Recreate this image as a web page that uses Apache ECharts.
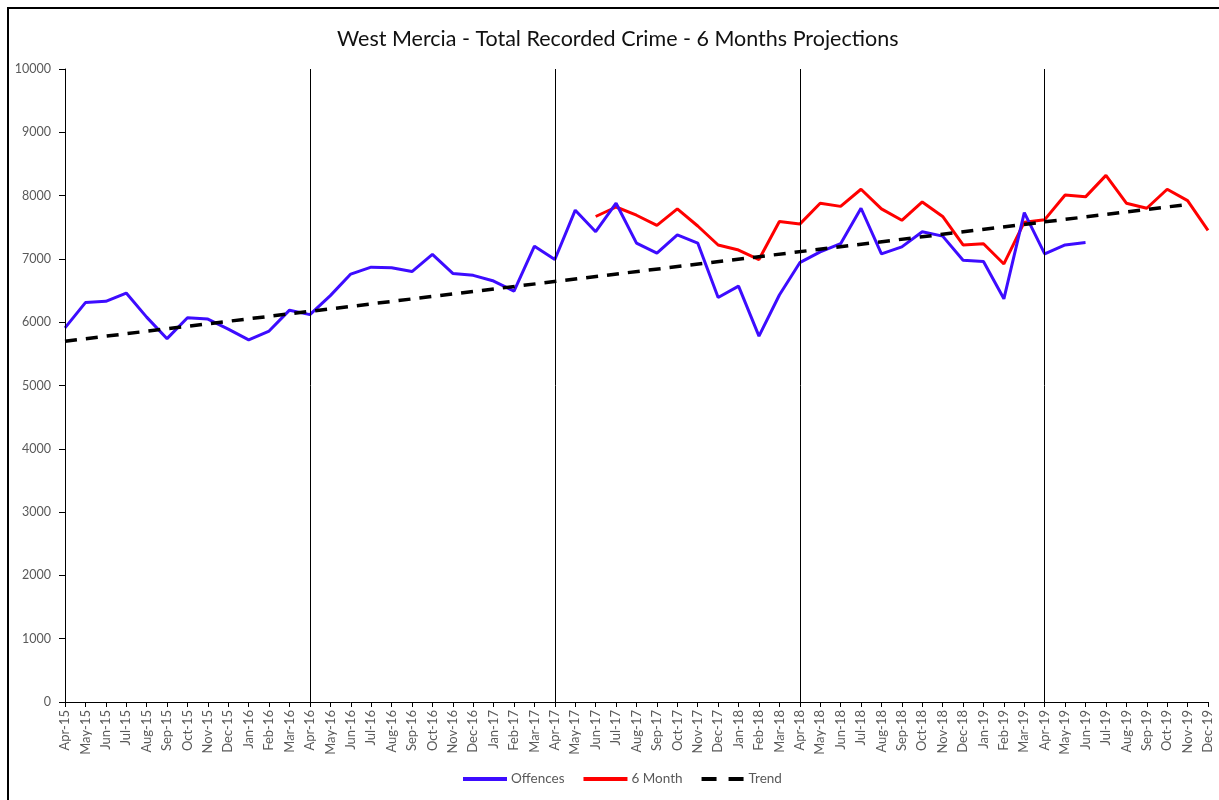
<!DOCTYPE html>
<html>
<head>
<meta charset="utf-8">
<script src="https://cdn.jsdelivr.net/npm/echarts@6/dist/echarts.min.js"></script>
<style>
  html, body { margin: 0; padding: 0; background: #fff; }
  #chart { width: 1219px; height: 800px; }
</style>
</head>
<body>
<div id="chart"></div>
<script>
// months Apr-15 .. Dec-19
const months = [
  "Apr-15", "May-15", "Jun-15", "Jul-15", "Aug-15", "Sep-15", "Oct-15", "Nov-15", "Dec-15", "Jan-16", "Feb-16", "Mar-16",
  "Apr-16", "May-16", "Jun-16", "Jul-16", "Aug-16", "Sep-16", "Oct-16", "Nov-16", "Dec-16", "Jan-17", "Feb-17", "Mar-17",
  "Apr-17", "May-17", "Jun-17", "Jul-17", "Aug-17", "Sep-17", "Oct-17", "Nov-17", "Dec-17", "Jan-18", "Feb-18", "Mar-18",
  "Apr-18", "May-18", "Jun-18", "Jul-18", "Aug-18", "Sep-18", "Oct-18", "Nov-18", "Dec-18", "Jan-19", "Feb-19", "Mar-19",
  "Apr-19", "May-19", "Jun-19", "Jul-19", "Aug-19", "Sep-19", "Oct-19", "Nov-19", "Dec-19"
];

const offences = [
  5910, 6310, 6330, 6460, 6080, 5740, 6070, 6050, 5890, 5720, 5860, 6190,
  6120, 6420, 6760, 6870, 6860, 6800, 7070, 6770, 6740, 6650, 6490, 7200,
  6990, 7770, 7430, 7880, 7250, 7090, 7380, 7250, 6390, 6570, 5780, 6430,
  6940, 7110, 7240, 7800, 7080, 7190, 7430, 7360, 6980, 6960, 6370, 7730,
  7080, 7220, 7260, null, null, null, null, null, null
];

const sixMonth = [
  null, null, null, null, null, null, null, null, null, null, null, null,
  null, null, null, null, null, null, null, null, null, null, null, null,
  null, null, 7670, 7820, 7690, 7530, 7790, 7520, 7220, 7140, 6990, 7590,
  7550, 7880, 7830, 8100, 7790, 7610, 7900, 7670, 7220, 7240, 6920, 7580,
  7620, 8010, 7980, 8320, 7880, 7800, 8100, 7920, 7450
];

// trend line: only its two end points, joined straight
const trendStart = 5700;
const trendEnd = 7860;
const trend = months.map((m, i) => i === 0 ? trendStart : (m === "Nov-19" ? trendEnd : null));

// year markers
const yearLines = ["Apr-15", "Apr-16", "Apr-17", "Apr-18", "Apr-19"];

const fontFamily = "Lato, 'Liberation Sans', sans-serif";

let chart = echarts.init(document.getElementById("chart"), null, { renderer: "canvas" });

chart.setOption({
  backgroundColor: "#fff",
  animation: false,
  textStyle: { fontFamily: fontFamily },
  title: {
    text: "West Mercia - Total Recorded Crime - 6 Months Projections",
    left: 332,
    top: 23,
    textStyle: { fontSize: 21.5, fontWeight: "normal", color: "#111", fontFamily: fontFamily }
  },
  graphic: [
    {
      type: "rect",
      shape: { x: 8, y: 8, width: 1260, height: 850 },
      style: { fill: "none", stroke: "#000", lineWidth: 2 },
      silent: true
    }
  ],
  legend: {
    bottom: 9,
    left: 458,
    itemWidth: 44,
    itemHeight: 4,
    itemGap: 19,
    textStyle: { color: "#595959", fontSize: 13.5, fontFamily: fontFamily, padding: [0, 0, 0, -1] },
    data: [
      { name: "Offences", icon: "rect" },
      { name: "6 Month", icon: "rect" },
      { name: "Trend", icon: "path://M0,0h15v4h-15z M27,0h15v4h-15z" }
    ]
  },
  grid: {
    left: 65,
    right: 11,
    top: 69,
    bottom: 98,
    containLabel: false
  },
  xAxis: {
    type: "category",
    data: months,
    boundaryGap: false,
    axisLine: { lineStyle: { color: "#000", width: 1 } },
    axisTick: { show: true, length: 5, alignWithLabel: true, lineStyle: { color: "#000" } },
    axisLabel: {
      rotate: 90,
      interval: 0,
      color: "#595959",
      fontSize: 13,
      margin: 8
    },
    splitLine: { show: false }
  },
  yAxis: {
    type: "value",
    min: 0,
    max: 10000,
    interval: 1000,
    axisLine: { show: true, lineStyle: { color: "#000", width: 1 } },
    axisTick: { show: true, length: 6, lineStyle: { color: "#000" } },
    axisLabel: { color: "#595959", fontSize: 12.5, margin: 14, formatter: v => String(v) },
    splitLine: { show: false }
  },
  series: [
    {
      name: "Offences",
      type: "line",
      data: offences,
      symbol: "none",
      lineStyle: { color: "#3D0CFF", width: 3 },
      itemStyle: { color: "#3D0CFF" },
      z: 3,
      markLine: {
        silent: true,
        symbol: "none",
        label: { show: false },
        lineStyle: { color: "#000", width: 1, type: "solid" },
        data: yearLines.map(m => ({ xAxis: m }))
      }
    },
    {
      name: "6 Month",
      type: "line",
      data: sixMonth,
      symbol: "none",
      lineStyle: { color: "#FF0000", width: 3 },
      itemStyle: { color: "#FF0000" },
      z: 2
    },
    {
      name: "Trend",
      type: "line",
      data: trend,
      connectNulls: true,
      symbol: "none",
      lineStyle: { color: "#000", width: 3.5, type: [12, 9] },
      itemStyle: { color: "#000" },
      z: 4
    }
  ]
});
</script>
</body>
</html>
